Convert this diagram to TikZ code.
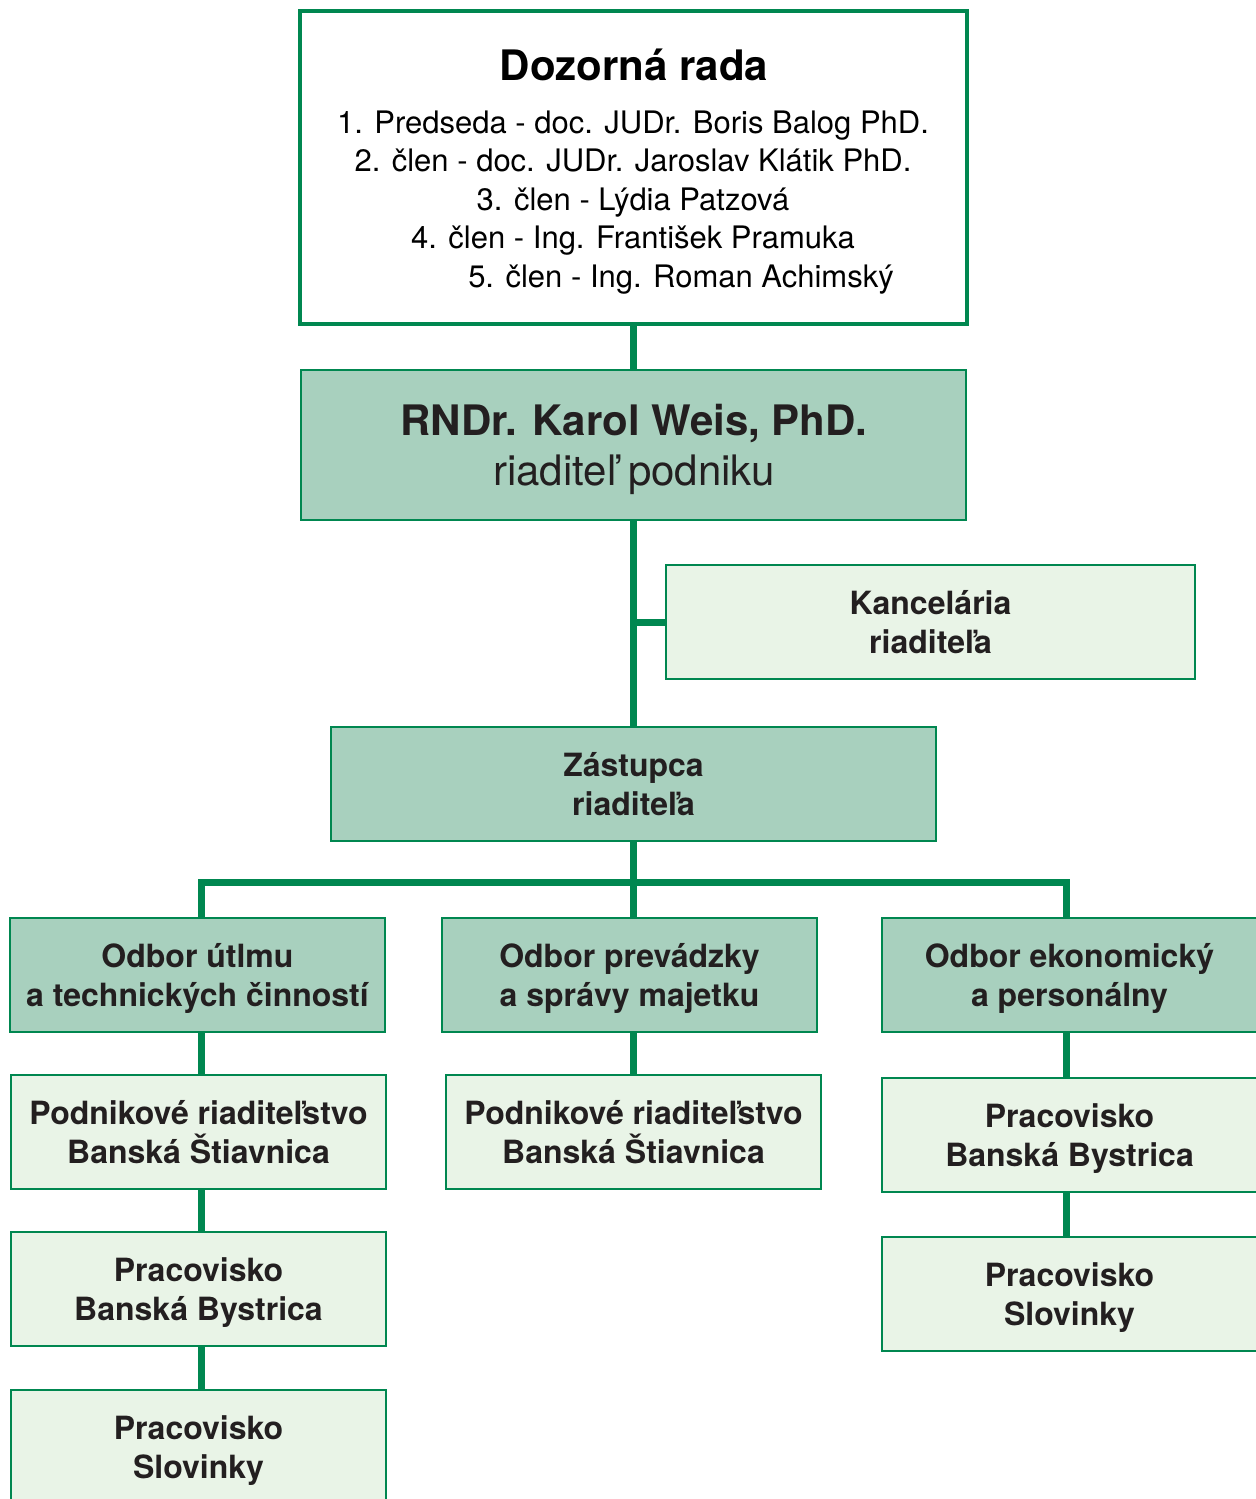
\documentclass[tikz,border=0pt]{standalone}
\usepackage{fontspec}
\setmainfont{TeX Gyre Heros}
\usetikzlibrary{backgrounds}
\definecolor{gline}{RGB}{0,135,80}
\definecolor{midfill}{RGB}{168,208,190}
\definecolor{lightfill}{RGB}{233,244,231}
\definecolor{txt}{RGB}{35,31,32}
\tikzset{
  boxbase/.style={draw=gline, line width=1.4pt, inner sep=0pt, align=center, text=txt,
    text depth=0pt, font=\fontsize{16}{19.5}\selectfont\bfseries},
  midbox/.style={boxbase, fill=midfill},
  lightbox/.style={boxbase, fill=lightfill},
  conn/.style={draw=gline, line width=3.5pt},
  member/.style={anchor=base, text=black, font=\fontsize{15.5}{18}\selectfont, inner sep=0pt},
}
\begin{document}
\begin{tikzpicture}[x=0.5pt,y=-0.5pt]
\useasboundingbox (0,0) rectangle (1256,1499);
\clip (0,0) rectangle (1256,1499);
% top box
\node[draw=gline, line width=2pt, fill=white, minimum width=333.5pt, minimum height=156.5pt, inner sep=0pt] (top) at (633.5,167.5) {};
\node[anchor=base, inner sep=0pt, font=\fontsize{21}{24}\selectfont\bfseries] (title) at (634,80) {Dozorná rada};
\node[member] (m1) at (633,133) {1. Predseda - doc. JUDr. Boris Balog PhD.};
\node[member] (m2) at (633,171.5) {2. člen - doc. JUDr. Jaroslav Klátik PhD.};
\node[member] (m3) at (633,210) {3. člen - Lýdia Patzová};
\node[member] (m4) at (633,248.5) {4. člen - Ing. František Pramuka};
\node[member] (m5) at (681,287) {5. člen - Ing. Roman Achimský};
% director
\node[midbox, minimum width=332.5pt, minimum height=75pt] (dir) at (633.5,445) {};
\node[anchor=base, inner sep=0pt, text=txt, font=\fontsize{21}{24}\selectfont\bfseries] (dirname) at (634,435) {RNDr. Karol Weis, PhD.};
\node[anchor=base, inner sep=0pt, text=txt, font=\fontsize{21}{24}\selectfont] (dirrole) at (634,485) {riaditeľ podniku};
% office
\node[lightbox, minimum width=264.5pt, minimum height=57pt] (kanc) at (930.5,622) {Kancelária\\riaditeľa};
% deputy
\node[midbox, minimum width=302.5pt, minimum height=57pt] (zast) at (633.5,784) {Zástupca\\riaditeľa};
% departments
\node[midbox, minimum width=187.5pt, minimum height=57pt] (o1) at (197.5,975) {Odbor útlmu\\a technických činností};
\node[midbox, minimum width=187.5pt, minimum height=57pt] (o2) at (629.5,975) {Odbor prevádzky\\a správy majetku};
\node[midbox, minimum width=187.5pt, minimum height=57pt] (o3) at (1069.5,975) {Odbor ekonomický\\a personálny};
% units
\node[lightbox, minimum width=187.5pt, minimum height=57pt] (p1) at (198.5,1132) {Podnikové riaditeľstvo\\Banská Štiavnica};
\node[lightbox, minimum width=187.5pt, minimum height=57pt] (p3) at (198.5,1289) {Pracovisko\\Banská Bystrica};
\node[lightbox, minimum width=187.5pt, minimum height=57pt] (p4) at (198.5,1447) {Pracovisko\\Slovinky};
\node[lightbox, minimum width=187.5pt, minimum height=57pt] (p2) at (633.5,1132) {Podnikové riaditeľstvo\\Banská Štiavnica};
\node[lightbox, minimum width=187.5pt, minimum height=57pt] (r1) at (1069.5,1135) {Pracovisko\\Banská Bystrica};
\node[lightbox, minimum width=187.5pt, minimum height=57pt] (r2) at (1069.5,1294) {Pracovisko\\Slovinky};
\coordinate (bus) at (633.5,882);
\begin{scope}[on background layer]
\draw[conn] (top.south) -- (dir.north);
\draw[conn] (dir.south) -- (zast.north);
\draw[conn] (dir.south |- kanc.west) -- (kanc.west);
\draw[conn] (zast.south) -- (zast.south |- o2.north);
\draw[conn] ([xshift=1.75pt]o1.north) |- (bus) -| ([xshift=-1.75pt]o3.north);
\draw[conn] ([xshift=1.25pt]p1.north |- o1.south) -- ([xshift=1.25pt]p1.north);
\draw[conn] ([xshift=1.25pt]p1.south) -- ([xshift=1.25pt]p3.north);
\draw[conn] ([xshift=1.25pt]p3.south) -- ([xshift=1.25pt]p4.north);
\draw[conn] (p2.north) -- (p2.north |- o2.south);
\draw[conn] ([xshift=-1.75pt]o3.south) -- ([xshift=-1.75pt]r1.north);
\draw[conn] ([xshift=-1.75pt]r1.south) -- ([xshift=-1.75pt]r2.north);
\end{scope}
\end{tikzpicture}
\end{document}
